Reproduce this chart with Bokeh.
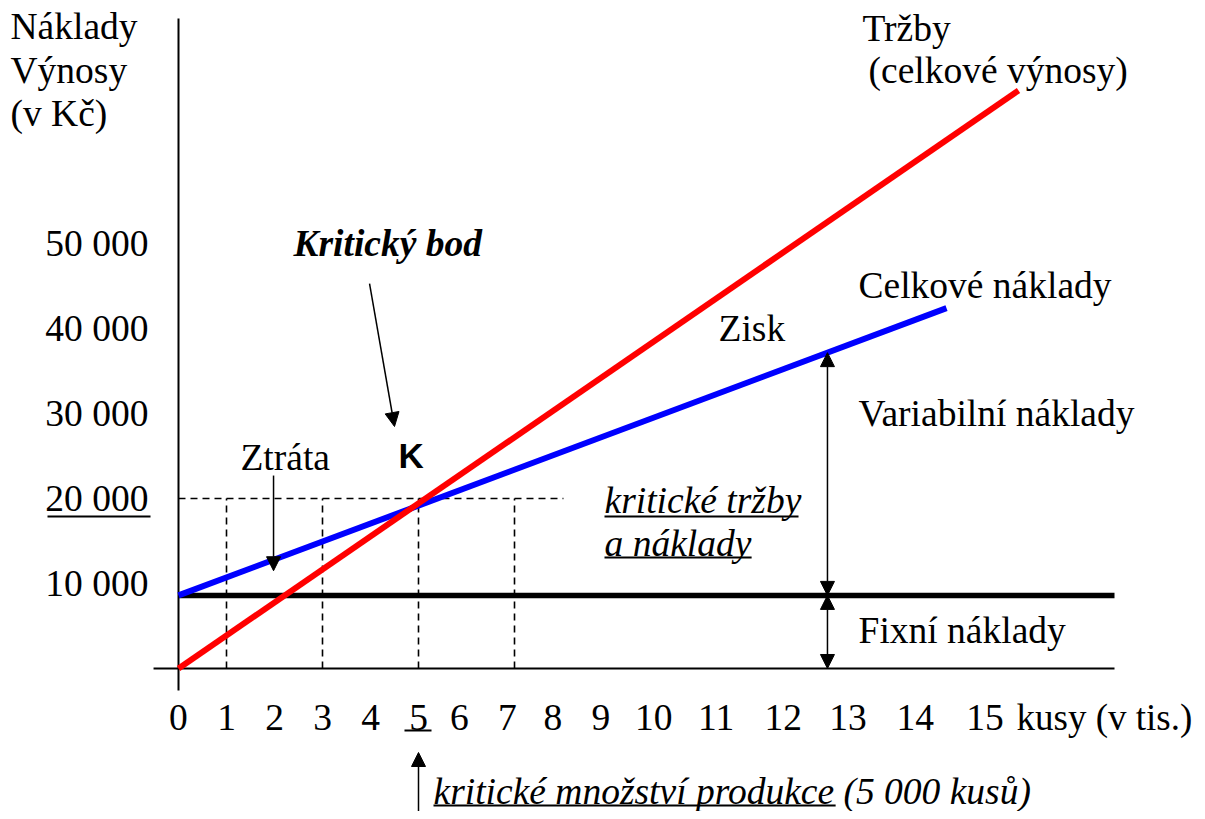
import numpy as np
from bokeh.plotting import figure
from bokeh.models import Range1d, Arrow, NormalHead
from bokeh.core.properties import value
from bokeh.embed import file_html
from bokeh.resources import INLINE

# ---------------- data (quantity in thousands of pieces, money in Kč) ----------------
revenue_q = [0, 17.5]
revenue_kc = [0, 68000]
cost_q = [0, 16.0]
cost_kc = [8600, 42400]
fixed_q = [0, 19.5]
fixed_kc = [8600, 8600]
critical_q = 5
critical_kc = 20000
guide_q = [1, 3, 5, 7]
x_tick_labels = ["0", "1", "2", "3", "4", "5", "6", "7", "8", "9", "10", "11", "12", "13", "14", "15"]
x_tick_pos = [0, 1, 2, 3, 4, 5, 5.85, 6.85, 7.8, 8.8, 9.9, 11.2, 12.6, 13.95, 15.35, 16.8]
y_tick_vals = [10000, 20000, 30000, 40000, 50000]
y_tick_labels = ["10 000", "20 000", "30 000", "40 000", "50 000"]

SERIF = "Liberation Serif"
SANS = "Liberation Sans"
FS = "37.5px"

p = figure(width=1197, height=811,
           x_range=Range1d(-3.7083, 21.229), y_range=Range1d(-16824, 78588),
           output_backend="svg", toolbar_location=None,
           x_axis_type=None, y_axis_type=None, min_border=0)
p.outline_line_color = None
p.background_fill_color = "white"
p.border_fill_color = "white"

# axes lines
p.segment(x0=[0, -0.52], y0=[-2590, 0], x1=[0, 19.5], y1=[76470, 0],
          line_color="black", line_width=2)

# dashed guides
p.segment(x0=guide_q, y0=[0] * len(guide_q), x1=guide_q, y1=[critical_kc] * len(guide_q),
          line_color="black", line_width=1.6, line_dash="7 5")
p.segment(x0=[0], y0=[critical_kc], x1=[8.02], y1=[critical_kc],
          line_color="black", line_width=1.6, line_dash="7 5")

# main lines
p.line(fixed_q, fixed_kc, line_color="black", line_width=5.5)
p.line(cost_q, cost_kc, line_color="#0000FF", line_width=6)
p.line(revenue_q, revenue_kc, line_color="#FF0000", line_width=6)

# tick labels
p.text(x=x_tick_pos, y=[0] * len(x_tick_pos), text=x_tick_labels, y_offset=49,
       text_font=value(SERIF), text_font_size=FS, text_align="center",
       text_baseline="middle", text_color="black")
p.text(x=[-0.625] * len(y_tick_vals), y=y_tick_vals, text=y_tick_labels,
       text_font=value(SERIF), text_font_size=FS, text_align="right",
       text_baseline="middle", text_color="black")


def label(x, y, t, style="normal", font=SERIF, size=FS, align="left"):
    p.text(x=[x], y=[y], text=[t], text_font=value(font), text_font_size=size,
           text_font_style=style, text_align=align, text_baseline="middle",
           text_color="black")


label(-3.5, 75529, "Náklady")
label(-3.5, 70353, "Výnosy")
label(-3.5, 65294, "(v Kč)")
label(14.25, 75294, "Tržby")
label(14.375, 70353, "(celkové výnosy)")
label(2.396, 50000, "Kritický bod", style="bold italic")
label(14.167, 45059, "Celkové náklady")
label(11.25, 40000, "Zisk")
label(14.167, 30000, "Variabilní náklady")
label(4.583, 25059, "K", style="bold", font=SANS, size="35px")
label(1.29, 24824, "Ztráta")
label(8.875, 19765, "kritické tržby", style="italic")
label(8.875, 14706, "a náklady", style="italic")
label(14.167, 4471, "Fixní náklady")
label(17.46, -5765, "kusy (v tis.)", size="37px")
label(5.3125, -14471, "kritické množství produkce (5 000 kusů)", style="italic")

# underlines
p.segment(x0=[-2.729, 4.708, 8.875, 8.875, 5.3125],
          y0=[17882, -7294, 17882, 13059, -16118],
          x1=[-0.583, 5.271, 12.917, 11.94, 13.69],
          y1=[17882, -7294, 17882, 13059, -16118],
          line_color="black", line_width=2)

# arrows
def head():
    return NormalHead(size=14, fill_color="black", line_color="black", line_width=1)


arrow_q = 13.52
top_kc = float(np.interp(arrow_q, cost_q, cost_kc))
fix_kc = fixed_kc[0]
p.add_layout(Arrow(start=head(), end=head(), x_start=arrow_q, y_start=fix_kc,
                   x_end=arrow_q, y_end=top_kc, line_width=1.5, line_color="black"))
p.add_layout(Arrow(start=head(), end=head(), x_start=arrow_q, y_start=0,
                   x_end=arrow_q, y_end=fix_kc, line_width=1.5, line_color="black"))
p.add_layout(Arrow(end=head(), x_start=1.98, y_start=22700, x_end=1.98, y_end=11500,
                   line_width=1.5, line_color="black"))
p.add_layout(Arrow(end=head(), x_start=3.98, y_start=45290, x_end=4.5, y_end=28470,
                   line_width=1.5, line_color="black"))
p.add_layout(Arrow(end=head(), x_start=critical_q, y_start=-16824, x_end=critical_q,
                   y_end=-9882, line_width=1.5, line_color="black"))

open("out.html", "w").write(file_html(p, INLINE))
